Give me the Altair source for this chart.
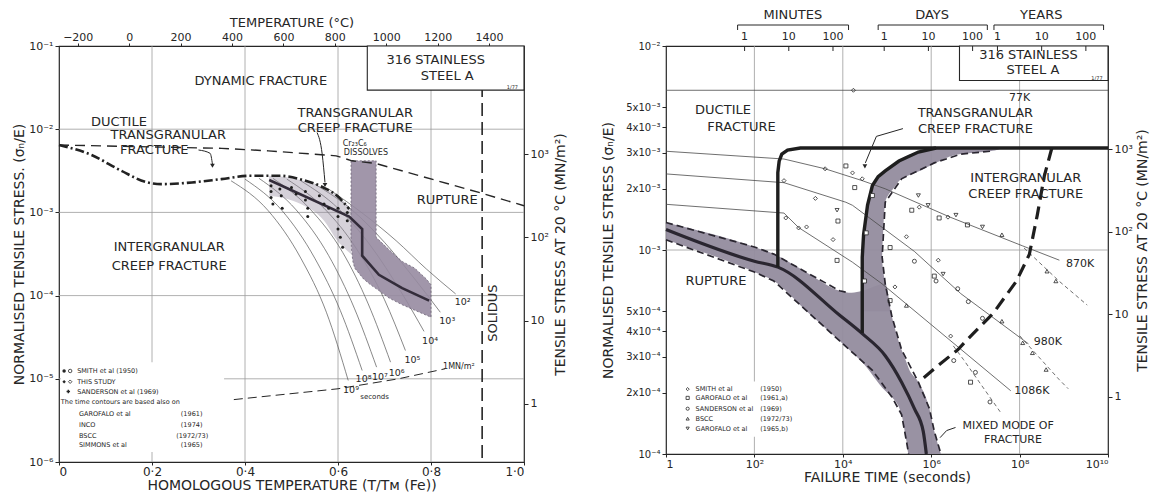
import altair as alt
import pandas as pd

FONT = "DejaVu Sans"
INK = "#262626"
GRID = "#9c9c9c"
HATCH = "#978ba1"
SHADE = "#948c9e"

# ====================== LEFT MAP ======================
# x: homologous temperature T/TM(Fe); y values are log10(sigma_n / E)
L_grid_x = [0.2, 0.4, 0.6, 0.8]
L_grid_y = [-5, -4, -3, -2]
L_x_ticks = [0, 0.2, 0.4, 0.6, 0.8, 1.0]
L_y_ticks = [-6, -5, -4, -3, -2, -1]
L_temp_ticks = [-200, 0, 200, 400, 600, 800, 1000, 1200, 1400]
L_stress_ticks = [1, 10, 100, 1000]
TM_FE_K = 1809.0
E_20C = 2.0e5
SOLIDUS_H = [0.91]

dyn_H = [0.0, 0.35, 0.45, 0.596, 0.63, 0.68, 0.903, 1.0]
dyn_L = [-2.19, -2.23, -2.26, -2.32, -2.38, -2.41, -2.76, -2.92]

duct_H = [0.0, 0.07, 0.134, 0.19, 0.22, 0.286, 0.349, 0.41, 0.476, 0.524, 0.572, 0.60, 0.624]
duct_L = [-2.19, -2.31, -2.50, -2.64, -2.66, -2.64, -2.60, -2.56, -2.56, -2.61, -2.71, -2.81, -2.96]

band_L = [-2.38, -3.30, -3.45, -3.59, -3.67, -3.80, -3.87, -3.94, -4.03, -4.11, -4.20, -4.26]
band_left = [0.628, 0.628, 0.629, 0.632, 0.636, 0.655, 0.670, 0.688, 0.710, 0.738, 0.775, 0.800]
band_right = [0.682, 0.682, 0.710, 0.738, 0.765, 0.790, 0.800, 0.800, 0.800, 0.800, 0.800, 0.800]

diag_H = [0.452, 0.52, 0.57, 0.60, 0.628]
diag_top = [-2.56, -2.61, -2.71, -2.81, -2.96]
diag_bot = [-2.80, -2.90, -3.10, -3.35, -3.50]

core_H = [0.452, 0.624, 0.652, 0.652, 0.688, 0.738, 0.796]
core_L = [-2.61, -3.05, -3.20, -3.52, -3.75, -3.91, -4.06]

contours = {
    "1e9": ([0.37, 0.45, 0.52, 0.575, 0.622], [-2.62, -2.98, -3.55, -4.20, -5.02]),
    "1e8": ([0.40, 0.48, 0.55, 0.605, 0.652], [-2.60, -2.98, -3.55, -4.18, -4.90]),
    "1e7": ([0.43, 0.51, 0.58, 0.635, 0.683], [-2.59, -2.97, -3.52, -4.15, -4.86]),
    "1e6": ([0.46, 0.54, 0.61, 0.665, 0.713], [-2.59, -2.96, -3.48, -4.10, -4.80]),
    "1e5": ([0.49, 0.57, 0.64, 0.700, 0.745], [-2.60, -2.95, -3.44, -4.05, -4.66]),
    "1e4": ([0.52, 0.60, 0.67, 0.735, 0.785], [-2.62, -2.95, -3.40, -3.95, -4.43]),
    "1e3": ([0.55, 0.63, 0.70, 0.765, 0.820], [-2.66, -2.97, -3.36, -3.80, -4.20]),
    "1e2": ([0.58, 0.655, 0.725, 0.790, 0.853], [-2.72, -3.02, -3.34, -3.68, -3.98]),
}
contour_labels = [("10⁹", 0.628, -5.13), ("10⁸", 0.655, -5.00), ("10⁷", 0.69, -4.98),
                  ("10⁶", 0.726, -4.93), ("10⁵", 0.76, -4.78), ("10⁴", 0.798, -4.55),
                  ("10³", 0.835, -4.30), ("10²", 0.868, -4.08)]

mn1_H = [0.376, 0.60, 0.73, 0.83]
mn1_L = [-5.25, -5.12, -5.00, -4.88]

L_pts_H = [0.456, 0.456, 0.456, 0.46, 0.475, 0.478, 0.48, 0.50, 0.51, 0.53, 0.53, 0.535,
           0.535, 0.56, 0.57, 0.58, 0.60, 0.60, 0.60, 0.605, 0.61, 0.62, 0.62]
L_pts_L = [-2.68, -2.75, -2.82, -2.90, -2.72, -2.80, -2.95, -2.70, -2.78, -2.75, -2.85, -2.95,
           -3.05, -2.80, -2.90, -2.95, -2.95, -3.05, -3.20, -3.30, -3.42, -3.10, -3.00]

L_big_text = [("DYNAMIC FRACTURE", 0.434, -1.42), ("DUCTILE", 0.129, -1.91),
              ("TRANSGRANULAR", 0.235, -2.075), ("FRACTURE", 0.205, -2.245),
              ("TRANSGRANULAR", 0.637, -1.81), ("CREEP FRACTURE", 0.637, -1.98),
              ("RUPTURE", 0.835, -2.85), ("INTERGRANULAR", 0.237, -3.41),
              ("CREEP FRACTURE", 0.237, -3.64), ("316 STAINLESS", 0.81, -1.17),
              ("STEEL A", 0.835, -1.36)]
L_small_text = [("Cr₂₃C₆", 0.636, -2.18), ("DISSOLVES", 0.66, -2.29)]
L_legend_rows = [("SMITH et al  (1950)", 0.039, -4.906), ("THIS STUDY", 0.039, -5.035),
                 ("SANDERSON et al  (1969)", 0.039, -5.153),
                 ("The time contours are based also on", 0.004, -5.282),
                 ("GAROFALO et al", 0.043, -5.424), ("(1961)", 0.262, -5.424),
                 ("INCO", 0.043, -5.553), ("(1974)", 0.262, -5.553),
                 ("BSCC", 0.043, -5.682), ("(1972/73)", 0.252, -5.682),
                 ("SIMMONS et al", 0.043, -5.80), ("(1965)", 0.262, -5.80)]

# ====================== RIGHT MAP ======================
# values are log10(failure time / s) and log10(sigma_n / E)
R_grid_x = [2, 4, 6, 8]
R_grid_y = [-3]
R_x_ticks = [0, 2, 4, 6, 8, 10]
R_y_ticks = [1e-4, 2e-4, 3e-4, 4e-4, 5e-4, 1e-3, 2e-3, 3e-3, 4e-3, 5e-3, 1e-2]
R_stress_ticks = [1, 10, 100, 1000]
R_stress_domain = [0.204, 17800]

top_seconds = [60, 600, 6000, 86400, 864000, 8640000, 3.156e7, 3.156e8, 3.156e9]
top_labels = ["1", "10", "100", "1", "10", "100", "1", "10", "100"]
top_groups = [("MINUTES", 2.87), ("DAYS", 6.02), ("YEARS", 8.49)]
top_brackets = [(1.62, 4.13), (4.8, 7.27), (7.42, 9.9)]

rup_c_t = [0, 2.0, 2.53, 3.93, 4.44, 4.96, 5.33, 5.62, 5.82, 5.89]
rup_c_s = [-2.90, -3.055, -3.084, -3.32, -3.41, -3.518, -3.648, -3.778, -3.889, -4.0]
rup_u_t = [0, 2.0, 2.44, 3.18, 3.93, 4.15]
rup_u_s = [-2.865, -2.985, -3.02, -3.11, -3.2, -3.21]
rup_l_t = [0, 2.0, 2.44, 3.93, 4.67, 5.11, 5.33, 5.44, 5.49]
rup_l_s = [-2.95, -3.108, -3.152, -3.446, -3.59, -3.72, -3.807, -3.937, -4.0]
inner_t = [7.33, 6.67, 6.07, 5.33, 4.96, 4.89, 4.96, 5.11, 5.33, 5.71, 5.96, 6.07, 6.22]
inner_s = [-2.516, -2.53, -2.573, -2.651, -2.766, -3.036, -3.166, -3.325, -3.489, -3.648,
           -3.778, -3.889, -4.0]
rup_area_t = [0, 2.0, 2.44, 3.18, 3.93, 4.2, 4.44, 4.96, 5.11, 5.33, 5.44, 5.49, 5.71, 5.96, 6.07, 6.22]
rup_area_top = [-2.865, -2.985, -3.02, -3.11, -3.2, -3.21, -3.2, -3.166, -3.325, -3.489, -3.55,
                -3.58, -3.648, -3.778, -3.889, -4.0]
rup_area_bot = [-2.95, -3.108, -3.152, -3.30, -3.446, -3.50, -3.55, -3.69, -3.72, -3.807, -3.937,
                -4.0, -4.0, -4.0, -4.0, -4.0]
tg_s = [-2.50, -2.516, -2.53, -2.564, -2.612, -2.651, -2.684, -2.766, -2.925, -3.036, -3.166, -3.30]
tg_left = [6.11, 5.8, 5.55, 5.27, 4.96, 4.78, 4.67, 4.57, 4.47, 4.44, 4.44, 4.44]
tg_right = [7.6, 7.33, 6.67, 6.2, 5.75, 5.33, 5.2, 4.96, 4.91, 4.89, 4.96, 5.08]

duct_b_t = [2.53, 2.53, 2.56, 2.62, 2.75, 3.04, 10]
duct_b_s = [-3.084, -2.62, -2.565, -2.53, -2.51, -2.50, -2.50]
trans_b_t = [4.44, 4.44, 4.47, 4.56, 4.67, 4.8, 4.96, 5.27, 5.71, 6.11]
trans_b_s = [-3.407, -3.036, -2.925, -2.78, -2.684, -2.64, -2.612, -2.564, -2.52, -2.50]
inter_b_t = [8.73, 8.71, 8.56, 8.4, 8.22, 7.93, 7.4, 6.96, 6.6, 6.16, 5.71]
inter_b_s = [-2.50, -2.516, -2.636, -2.829, -3.022, -3.152, -3.311, -3.407, -3.489, -3.566, -3.648]

iso = {
    "77K": ([0, 10], [-2.217, -2.217]),
    "870K": ([0, 2.67, 3.6, 4.44, 4.96, 6.44, 8.07, 8.9],
             [-2.516, -2.554, -2.602, -2.66, -2.70, -2.84, -2.98, -3.05]),
    "980K": ([0, 2.67, 4.07, 4.22, 5.62, 6.67, 8.2],
             [-2.627, -2.67, -2.766, -2.781, -3.007, -3.214, -3.46]),
    "1086K": ([0, 2.67, 3.0, 4.22, 4.89, 7.8],
              [-2.776, -2.819, -2.89, -3.06, -3.166, -3.69]),
}
iso_dashed = {
    "870K": ([8.1, 8.89, 9.53], [-2.99, -3.152, -3.27]),
    "980K": ([8.0, 8.89, 9.1], [-3.42, -3.634, -3.68]),
    "1086K": ([6.5, 6.73, 7.56], [-3.47, -3.537, -3.793]),
}
iso_labels = [("870K", 9.05, -3.07, "left"), ("980K", 8.32, -3.45, "left"),
              ("1086K", 7.88, -3.69, "left"), ("77K", 8.0, -2.257, "center")]

R_smith = [(4.24, -2.217), (3.6, -2.602), (2.67, -2.66), (3.38, -2.747), (2.71, -2.843),
           (3.0, -2.892), (3.18, -2.887), (3.78, -2.949), (4.44, -2.651), (4.22, -2.622),
           (5.18, -3.181), (5.73, -2.79), (6.38, -2.839), (5.44, -2.935), (6.16, -3.05),
           (6.44, -3.422)]
R_garo_a = [(4.07, -2.588), (4.27, -2.694), (3.89, -2.858), (3.87, -3.051), (5.07, -2.988),
            (5.07, -3.248), (5.56, -2.805), (6.18, -2.843), (6.82, -2.877), (6.07, -3.128),
            (6.89, -3.648)]
R_garo_a_band = [(4.67, -2.733), (4.53, -2.916), (4.49, -3.152)]
R_sand = [(5.62, -3.055), (6.11, -3.152), (6.6, -3.19), (6.84, -3.253), (7.16, -3.335),
          (6.51, -3.542), (7.33, -3.745), (7.0, -3.6)]
R_bscc = [(7.6, -2.925), (7.6, -3.349), (8.07, -3.455), (8.29, -3.504), (8.6, -3.586),
          (8.62, -3.104), (8.82, -3.152), (5.44, -3.272)]
R_garo_b = [(3.87, -2.805), (5.71, -2.733), (5.93, -2.781), (6.56, -2.829), (7.16, -2.887),
            (6.27, -3.118)]

R_big_text = [("DUCTILE", 1.29, -2.315), ("FRACTURE", 1.71, -2.395),
              ("TRANSGRANULAR", 7.0, -2.328), ("CREEP FRACTURE", 7.0, -2.405),
              ("INTERGRANULAR", 8.14, -2.648), ("CREEP FRACTURE", 8.14, -2.725),
              ("RUPTURE", 1.13, -3.152), ("316 STAINLESS", 8.2, -2.043), ("STEEL A", 8.3, -2.12)]
R_mid_text = [("MIXED MODE OF", 7.74, -3.862), ("FRACTURE", 7.85, -3.93)]
R_legend_rows = [("SMITH et al", "(1950)", -3.682), ("GAROFALO et al", "(1961,a)", -3.725),
                 ("SANDERSON et al", "(1969)", -3.778), ("BSCC", "(1972/73)", -3.827),
                 ("GAROFALO et al", "(1965,b)", -3.875)]
R_legend_shapes = ["diamond", "square", "circle", "triangle-up", "triangle-down"]

# ====================== scales and axes ======================
XL = alt.Scale(domain=[0, 1], nice=False, zero=False)
YL = alt.Scale(type="log", domain=[1e-6, 1e-1], nice=False)
XR = alt.Scale(type="log", domain=[1, 1e10], nice=False)
YR = alt.Scale(type="log", domain=[1e-4, 1e-2], nice=False)

axL_x = alt.Axis(values=L_x_ticks, grid=False, domain=False, tickSize=3, labelPadding=1,
                 labelFontSize=12, titleFontSize=14, titlePadding=1,
                 labelExpr="['0','0·2','0·4','0·6','0·8','1·0'][round(datum.value*5)]",
                 title="HOMOLOGOUS TEMPERATURE (T/Tм (Fe))")
axL_y = alt.Axis(values=[10.0 ** v for v in L_y_ticks], grid=False, domain=False, tickSize=4,
                 labelPadding=2, labelFontSize=11, titleFontSize=14, titlePadding=2,
                 labelExpr="'10' + ['⁰','⁻¹','⁻²','⁻³','⁻⁴','⁻⁵','⁻⁶'][round(-log(datum.value)/LN10)]",
                 title="NORMALISED TENSILE STRESS. (σₙ/E)")
axR_x = alt.Axis(values=[10.0 ** v for v in R_x_ticks], grid=False, domain=False, tickSize=3,
                 labelPadding=1, labelFontSize=11, titleFontSize=14, titlePadding=1,
                 labelExpr="['1','10','10²','10³','10⁴','10⁵','10⁶','10⁷','10⁸','10⁹','10¹⁰'][round(log(datum.value)/LN10)]",
                 title="FAILURE TIME (seconds)")
axR_y = alt.Axis(values=R_y_ticks, grid=False, domain=False, tickSize=4, labelPadding=2,
                 labelFontSize=10, titleFontSize=14, titlePadding=10,
                 labelExpr="(round(datum.value/pow(10, floor(log(datum.value)/LN10 + 1e-6))) == 1 ? '' : round(datum.value/pow(10, floor(log(datum.value)/LN10 + 1e-6))) + 'x') + '10' + ['⁰','⁻¹','⁻²','⁻³','⁻⁴'][-floor(log(datum.value)/LN10 + 1e-6)]",
                 title="NORMALISED TENSILE STRESS (σₙ/E)")


def lx(f="H"):
    return alt.X(f + ":Q", scale=XL, axis=axL_x)


def ly(f="s"):
    return alt.Y(f + ":Q", scale=YL, axis=axL_y)


def rx(f="t"):
    return alt.X(f + ":Q", scale=XR, axis=axR_x)


def ry(f="s"):
    return alt.Y(f + ":Q", scale=YR, axis=axR_y)


def Ldf(H, L, k="a"):
    df = pd.DataFrame({"H": list(H), "s": [10.0 ** v for v in L]})
    df["i"] = range(len(df))
    df["k"] = k
    return df


def Rdf(T, S, k="a"):
    df = pd.DataFrame({"t": [10.0 ** v for v in T], "s": [10.0 ** v for v in S]})
    df["i"] = range(len(df))
    df["k"] = k
    return df


def Lline(df, **mk):
    return alt.Chart(df).mark_line(**mk).encode(x=lx(), y=ly(), order="i:Q", detail="k:N")


def Rline(df, **mk):
    return alt.Chart(df).mark_line(**mk).encode(x=rx(), y=ry(), order="i:Q", detail="k:N")


def Ltext(rows, **mk):
    df = pd.DataFrame({"txt": [r[0] for r in rows], "H": [r[1] for r in rows],
                       "s": [10.0 ** r[2] for r in rows]})
    return alt.Chart(df).mark_text(font=FONT, color=INK, **mk).encode(x=lx(), y=ly(), text="txt:N")


def Rtext(rows, **mk):
    df = pd.DataFrame({"txt": [r[0] for r in rows], "t": [10.0 ** r[1] for r in rows],
                       "s": [10.0 ** r[2] for r in rows]})
    return alt.Chart(df).mark_text(font=FONT, color=INK, **mk).encode(x=rx(), y=ry(), text="txt:N")


# ====================== LEFT PANEL ======================
L_gv = alt.Chart(pd.DataFrame({"H": L_grid_x})).mark_rule(color=GRID, strokeWidth=0.8).encode(x=lx())
L_gh = alt.Chart(pd.DataFrame({"s": [10.0 ** v for v in L_grid_y]})).mark_rule(
    color=GRID, strokeWidth=0.8).encode(y=ly())

L_legend_bg = alt.Chart(pd.DataFrame({"x1": [0.004], "x2": [0.355], "y1": [10 ** -4.8],
                                      "y2": [10 ** -5.88]})).mark_rect(fill="white").encode(
    x=lx("x1"), x2=alt.X2("x2:Q"), y=ly("y1"), y2=alt.Y2("y2:Q"))
L_box = alt.Chart(pd.DataFrame({"x1": [0.663], "x2": [1.0], "y1": [1e-1],
                                "y2": [10 ** -1.53]})).mark_rect(
    fill="white", stroke=INK, strokeWidth=1.1).encode(
    x=lx("x1"), x2=alt.X2("x2:Q"), y=ly("y1"), y2=alt.Y2("y2:Q"))

L_solidus = alt.Chart(pd.DataFrame({"H": SOLIDUS_H})).mark_rule(
    color=INK, strokeWidth=1.6, strokeDash=[13, 6]).encode(x=lx())

cont_df = pd.concat([Ldf(h, l, k) for k, (h, l) in contours.items()], ignore_index=True)
L_cont = Lline(cont_df, color="#555555", strokeWidth=0.7, interpolate="monotone")

diag_df = pd.DataFrame({"H": diag_H, "s": [10.0 ** v for v in diag_top],
                        "s2": [10.0 ** v for v in diag_bot]})
L_diag = alt.Chart(diag_df).mark_area(color=HATCH, opacity=0.4, interpolate="monotone").encode(
    x=lx(), y=ly(), y2=alt.Y2("s2:Q"))

band_df = pd.DataFrame({"s": [10.0 ** v for v in band_L], "xl": band_left, "xr": band_right})
L_band = alt.Chart(band_df).mark_area(orient="horizontal", color=HATCH, opacity=0.9,
                                      stroke="#5f556a", strokeWidth=0.8, strokeDash=[2, 2]).encode(
    y=ly(), x=lx("xl"), x2=alt.X2("xr:Q"))
L_core = alt.Chart(Ldf(core_H, core_L)).mark_line(color="#332c3a", strokeWidth=2.6).encode(
    x=lx(), y=ly(), order="i:Q")

L_dyn = Lline(Ldf(dyn_H, dyn_L), color=INK, strokeWidth=1.4, strokeDash=[10, 6])
L_duct = Lline(Ldf(duct_H, duct_L), color="#222222", strokeWidth=2.6, strokeDash=[9, 3, 2, 3],
               interpolate="monotone")
L_mn1 = Lline(Ldf(mn1_H, mn1_L), color=INK, strokeWidth=1.0, strokeDash=[9, 5])

L_pts = alt.Chart(Ldf(L_pts_H, L_pts_L)).mark_circle(size=9, color="#1e1e1e", opacity=1).encode(
    x=lx(), y=ly())

L_arrows = Lline(pd.concat([Ldf([0.30, 0.325, 0.33], [-2.25, -2.29, -2.42], "a"),
                            Ldf([0.555, 0.566, 0.572], [-2.04, -2.30, -2.64], "b")]),
                 color=INK, strokeWidth=1.0, interpolate="monotone")
L_heads = alt.Chart(Ldf([0.33, 0.572], [-2.44, -2.67])).mark_point(
    shape="triangle-down", filled=True, size=22, color=INK, opacity=1).encode(x=lx(), y=ly())

L_txt_big = Ltext(L_big_text, fontSize=13)
L_txt_small = Ltext(L_small_text, fontSize=8)
L_txt_cont = Ltext(contour_labels, fontSize=9.5)
L_txt_sec = Ltext([("seconds", 0.648, -5.22)], fontSize=7, align="left")
L_txt_mn = Ltext([("1MN/m²", 0.826, -4.86)], fontSize=8, align="left")
L_txt_sol = Ltext([("SOLIDUS", 0.934, -4.21)], fontSize=13, angle=270)
L_txt_77 = Ltext([("1/77", 0.975, -1.49)], fontSize=5)
L_txt_leg = Ltext(L_legend_rows, fontSize=6.5, align="left")

leg_sym = [("circle", True, 0.011, -4.906), ("circle", False, 0.024, -4.906),
           ("diamond", True, 0.011, -5.035), ("diamond", False, 0.024, -5.035),
           ("cross", True, 0.02, -5.153)]
L_leg_sym = alt.layer(*[
    alt.Chart(Ldf([h], [l])).mark_point(shape=sh, filled=f, size=12, color=INK, opacity=1,
                                        strokeWidth=0.8).encode(x=lx(), y=ly())
    for sh, f, h, l in leg_sym])

L_main = alt.layer(L_gv, L_gh, L_legend_bg, L_solidus, L_cont, L_diag, L_band, L_core,
                   L_dyn, L_duct, L_mn1, L_pts, L_arrows, L_heads, L_box, L_txt_big, L_txt_small,
                   L_txt_cont, L_txt_sec, L_txt_mn, L_txt_sol, L_txt_77, L_txt_leg, L_leg_sym)

L_right = alt.Chart(pd.DataFrame({"sig": L_stress_ticks})).mark_point(opacity=0).encode(
    y=alt.Y("sig:Q", scale=alt.Scale(type="log", domain=[E_20C * 1e-6, E_20C * 1e-1], nice=False),
            axis=alt.Axis(orient="right", values=L_stress_ticks, grid=False, domain=False,
                          tickSize=4, labelPadding=2, labelFontSize=11, titleFontSize=14,
                          titlePadding=5, titleAngle=270, titleBaseline="top",
                          labelExpr="['1','10','10²','10³'][round(log(datum.value)/LN10)]",
                          title="TENSILE STRESS AT 20 °C (MN/m²)")))
L_top = alt.Chart(pd.DataFrame({"C": L_temp_ticks})).mark_point(opacity=0).encode(
    x=alt.X("C:Q", scale=alt.Scale(domain=[-273.0, TM_FE_K - 273.0], nice=False, zero=False),
            axis=alt.Axis(orient="top", values=L_temp_ticks, grid=False, domain=False, tickSize=3,
                          labelPadding=1, labelFontSize=11, titleFontSize=13, titlePadding=2,
                          format="d", title="TEMPERATURE (°C)")))

left_panel = alt.layer(L_main, L_right, L_top).resolve_scale(
    x="independent", y="independent").properties(width=465, height=416)

# ====================== RIGHT PANEL ======================
R_gv = alt.Chart(pd.DataFrame({"t": [10.0 ** v for v in R_grid_x]})).mark_rule(
    color=GRID, strokeWidth=0.8).encode(x=rx())
R_gh = alt.Chart(pd.DataFrame({"s": [10.0 ** v for v in R_grid_y]})).mark_rule(
    color=GRID, strokeWidth=0.8).encode(y=ry())
R_legend_bg = alt.Chart(pd.DataFrame({"x1": [10 ** 0.35], "x2": [10 ** 3.15], "y1": [10 ** -3.645],
                                      "y2": [10 ** -3.915]})).mark_rect(fill="white").encode(
    x=rx("x1"), x2=alt.X2("x2:Q"), y=ry("y1"), y2=alt.Y2("y2:Q"))
R_box = alt.Chart(pd.DataFrame({"x1": [10 ** 6.64], "x2": [1e10], "y1": [1e-2],
                                "y2": [10 ** -2.169]})).mark_rect(
    fill="white", stroke=INK, strokeWidth=1.1).encode(
    x=rx("x1"), x2=alt.X2("x2:Q"), y=ry("y1"), y2=alt.Y2("y2:Q"))

rup_df = pd.DataFrame({"t": [10.0 ** v for v in rup_area_t], "s": [10.0 ** v for v in rup_area_top],
                       "s2": [10.0 ** v for v in rup_area_bot]})
R_rup_area = alt.Chart(rup_df).mark_area(color=SHADE, opacity=0.95, interpolate="monotone").encode(
    x=rx(), y=ry(), y2=alt.Y2("s2:Q"))
tg_df = pd.DataFrame({"s": [10.0 ** v for v in tg_s], "xl": [10.0 ** v for v in tg_left],
                      "xr": [10.0 ** v for v in tg_right]})
R_tg_area = alt.Chart(tg_df).mark_area(orient="horizontal", color=SHADE, opacity=0.95,
                                       interpolate="monotone").encode(
    y=ry(), x=rx("xl"), x2=alt.X2("xr:Q"))

iso_df = pd.concat([Rdf(t, s, k) for k, (t, s) in iso.items()], ignore_index=True)
R_iso = Rline(iso_df, color="#4a4a4a", strokeWidth=0.8)
isod_df = pd.concat([Rdf(t, s, k) for k, (t, s) in iso_dashed.items()], ignore_index=True)
R_isod = Rline(isod_df, color="#4a4a4a", strokeWidth=0.8, strokeDash=[4, 3])

R_rup_c = Rline(Rdf(rup_c_t, rup_c_s), color="#2a2630", strokeWidth=3.2, interpolate="monotone")
R_edges = Rline(pd.concat([Rdf(rup_u_t, rup_u_s, "u"), Rdf(rup_l_t, rup_l_s, "l"),
                           Rdf(inner_t, inner_s, "in")], ignore_index=True),
                color="#2a2630", strokeWidth=1.7, strokeDash=[7, 4])
R_thick = Rline(pd.concat([Rdf(duct_b_t, duct_b_s, "d"), Rdf(trans_b_t, trans_b_s, "tr")],
                          ignore_index=True), color="#1e1e1e", strokeWidth=3.4)
R_inter = Rline(Rdf(inter_b_t, inter_b_s), color="#1e1e1e", strokeWidth=3.2, strokeDash=[13, 7])

R_arrows = Rline(pd.concat([Rdf([5.36, 4.76, 4.51], [-2.405, -2.443, -2.573], "a"),
                            Rdf([6.55, 6.35, 6.2], [-3.87, -3.885, -3.92], "b")]),
                 color=INK, strokeWidth=1.0)
R_heads = alt.Chart(Rdf([4.5], [-2.59])).mark_point(
    shape="triangle-down", filled=True, size=22, color=INK, opacity=1).encode(x=rx(), y=ry())


def Rpts(rows, shape, filled=False, fill=None, size=16):
    df = Rdf([r[0] for r in rows], [r[1] for r in rows])
    mk = dict(shape=shape, filled=filled, size=size, color=INK, opacity=1, strokeWidth=0.8)
    if fill is not None:
        mk = dict(shape=shape, filled=True, size=size, fill=fill, stroke=INK, opacity=1,
                  strokeWidth=0.8)
    return alt.Chart(df).mark_point(**mk).encode(x=rx(), y=ry())


R_points = alt.layer(Rpts(R_smith, "diamond"), Rpts(R_garo_a, "square"),
                     Rpts(R_garo_a_band, "square", fill="white"), Rpts(R_sand, "circle"),
                     Rpts(R_bscc, "triangle-up"), Rpts(R_garo_b, "triangle-down"))

R_txt_big = Rtext(R_big_text, fontSize=13)
R_txt_mid = Rtext(R_mid_text, fontSize=11)
R_txt_iso = alt.layer(*[Rtext([(a, b, c)], fontSize=11, align=al) for a, b, c, al in iso_labels])
R_txt_77 = Rtext([("1/77", 9.75, -2.155)], fontSize=5)
R_txt_leg = alt.layer(
    Rtext([(r[0], 0.67, r[2]) for r in R_legend_rows], fontSize=6.5, align="left"),
    Rtext([(r[1], 2.13, r[2]) for r in R_legend_rows], fontSize=6.5, align="left"))
R_leg_sym = alt.layer(*[Rpts([(0.49, r[2])], sh, size=10) for r, sh in zip(R_legend_rows, R_legend_shapes)])

top_df = pd.DataFrame({"t": top_seconds, "lab": top_labels})
R_top_lab = alt.Chart(top_df).mark_text(font=FONT, color=INK, fontSize=11).encode(
    x=rx(), y=alt.value(-9), text="lab:N")
R_top_tick = alt.Chart(top_df).mark_rule(color=INK, strokeWidth=1).encode(
    x=rx(), y=alt.value(0), y2=alt.value(5))
grp_df = pd.DataFrame({"t": [10.0 ** g[1] for g in top_groups], "lab": [g[0] for g in top_groups]})
R_top_grp = alt.Chart(grp_df).mark_text(font=FONT, color=INK, fontSize=13).encode(
    x=rx(), y=alt.value(-31), text="lab:N")
br_df = pd.DataFrame({"t": [10.0 ** b[0] for b in top_brackets],
                      "t2": [10.0 ** b[1] for b in top_brackets]})
R_br_h = alt.Chart(br_df).mark_rule(color=INK, strokeWidth=1).encode(
    x=rx(), x2=alt.X2("t2:Q"), y=alt.value(-21))
br_end = pd.DataFrame({"t": [10.0 ** v for b in top_brackets for v in b]})
R_br_v = alt.Chart(br_end).mark_rule(color=INK, strokeWidth=1).encode(
    x=rx(), y=alt.value(-21), y2=alt.value(-16))

R_main = alt.layer(R_gv, R_gh, R_legend_bg, R_box, R_rup_area, R_tg_area, R_iso, R_isod,
                   R_rup_c, R_edges, R_thick, R_inter, R_arrows, R_heads, R_points, R_txt_big,
                   R_txt_mid, R_txt_iso, R_txt_77, R_txt_leg, R_leg_sym, R_top_lab, R_top_tick,
                   R_top_grp, R_br_h, R_br_v)
R_right = alt.Chart(pd.DataFrame({"sig": R_stress_ticks})).mark_point(opacity=0).encode(
    y=alt.Y("sig:Q", scale=alt.Scale(type="log", domain=R_stress_domain, nice=False),
            axis=alt.Axis(orient="right", values=R_stress_ticks, grid=False, domain=False,
                          tickSize=4, labelPadding=2, labelFontSize=11, titleFontSize=14,
                          titlePadding=3, titleAngle=270, titleBaseline="top",
                          labelExpr="['1','10','10²','10³'][round(log(datum.value)/LN10)]",
                          title="TENSILE STRESS AT 20 °C (MN/m²)")))

right_panel = alt.layer(R_main, R_right).resolve_scale(y="independent").properties(
    width=442, height=408)

chart = alt.hconcat(left_panel, right_panel, spacing=32).properties(
    padding={"left": 4, "top": 0, "right": 2, "bottom": 0}, background="white"
).configure_view(stroke=INK, strokeWidth=1.2).configure_axis(
    labelFont=FONT, titleFont=FONT, labelColor=INK, titleColor=INK, tickColor=INK,
    titleFontWeight="normal")

chart.save("out.html", embed_options={"renderer": "svg", "actions": False})
